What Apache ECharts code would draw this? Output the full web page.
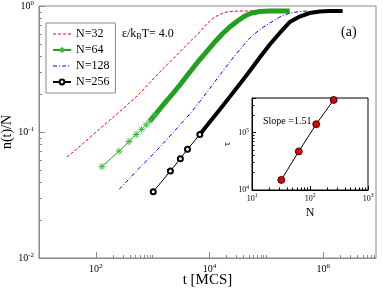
<!DOCTYPE html>
<html><head><meta charset="utf-8">
<script src="https://cdn.jsdelivr.net/npm/echarts@6/dist/echarts.min.js"></script>
<style>html,body{margin:0;padding:0;background:#fff}#c{width:382px;height:292px}</style>
</head><body><div id="c"></div>
<script>
// ---- data ----
const t32 = [31, 53, 96, 177, 325, 596, 1340, 2010, 3010, 4510, 6750, 8270, 10100, 12400, 15200, 18600, 22700, 34100, 51100, 62500];
const n32 = [0.0633, 0.0774, 0.0982, 0.1245, 0.158, 0.203, 0.301, 0.361, 0.434, 0.521, 0.622, 0.694, 0.760, 0.818, 0.856, 0.888, 0.904, 0.912, 0.912, 0.912];

const t64 = [128, 256, 384, 512, 640, 768, 896, 1093, 1640, 2290, 3010, 4510, 6750, 8970, 12400, 17100, 22700, 30200, 41700, 55400, 76600, 115000, 172000, 258000];
const n64 = [0.0531, 0.0705, 0.084, 0.0955, 0.105, 0.114, 0.1225, 0.1364, 0.170, 0.203, 0.236, 0.299, 0.376, 0.436, 0.518, 0.605, 0.681, 0.753, 0.833, 0.880, 0.904, 0.912, 0.912, 0.912];

const t128 = [258, 397, 596, 893, 1340, 2010, 3010, 4510, 6750, 10100, 15200, 22700, 34100, 51100, 76600, 115000, 172000, 258000, 386000, 513000];
const n128 = [0.0351, 0.0431, 0.0523, 0.0627, 0.0760, 0.0929, 0.1136, 0.139, 0.1746, 0.2215, 0.2834, 0.3593, 0.4516, 0.557, 0.651, 0.733, 0.818, 0.880, 0.904, 0.912];

const t256 = [1024, 2048, 3072, 4096, 6750, 10100, 15200, 22700, 34100, 51100, 76600, 115000, 172000, 258000, 386000, 579000, 868000, 1300000, 2200000];
const n256 = [0.0336, 0.0490, 0.0614, 0.0729, 0.0955, 0.120, 0.151, 0.190, 0.240, 0.305, 0.390, 0.495, 0.611, 0.746, 0.825, 0.880, 0.904, 0.912, 0.912];

const insetN = [32, 64, 128, 256];
const insetTau = [15000, 47000, 140000, 370000];

const legendNames = ['N=32', 'N=64', 'N=128', 'N=256'];
const xMajorTicks = [1e2, 1e4, 1e6];
const xMinorTicks = [200, 300, 400, 500, 600, 700, 800, 900, 1000,
                     20000, 30000, 40000, 50000, 60000, 70000, 80000, 90000, 100000,
                     2000000, 3000000, 4000000, 5000000, 6000000, 7000000, 8000000];

// ---- chart ----
const FONT = 'Liberation Serif';
const zip = (a, b) => a.map((v, i) => [v, b[i]]);
const powLabel = v => {
  const e = Math.log10(v);
  if (Math.abs(e - Math.round(e)) > 1e-6) return '';
  return '{b|10}{s|' + Math.round(e) + '}';
};
const rich = (b, s, p) => ({
  b: {fontFamily: FONT, fontSize: b, color: '#000'},
  s: {fontFamily: FONT, fontSize: s, color: '#000', padding: [0, 0, p, 0]}
});
const GRAY = '#8a8a8a';
const green = '#22a022';
const starPath = 'path://M0,-5L0,5M-5,0L5,0M-3.6,-3.6L3.6,3.6M-3.6,3.6L3.6,-3.6';
const dashIcon = 'path://M0,0L18,0L18,6L18,0L0,0ZM0,2.5h3v1h-3zM5,2.5h3v1h-3zM10,2.5h3v1h-3zM15,2.5h3v1h-3z';
const dashDotIcon = 'path://M0,0L18,0L18,6L18,0L0,0ZM0,2.5h4v1h-4zM6,2.5h1v1h-1zM9,2.5h4v1h-4zM15,2.5h1v1h-1z';

const chart = echarts.init(document.getElementById('c'), null, {renderer: 'canvas'});
chart.setOption({
  animation: false,
  backgroundColor: '#fff',
  grid: [
    {left: 39, top: 6, right: 6, bottom: 34, show: true, borderColor: GRAY, borderWidth: 1,
     containLabel: false, outerBoundsMode: 'none'},
    {left: 252, top: 98, right: 14, bottom: 102, show: true, borderColor: '#000', borderWidth: 1,
     backgroundColor: '#fff', containLabel: false, outerBoundsMode: 'none'}
  ],
  legend: {
    data: [
      {name: 'N=32', icon: dashIcon},
      {name: 'N=64'},
      {name: 'N=128', icon: dashDotIcon},
      {name: 'N=256'}
    ],
    orient: 'vertical', left: 46, top: 23,
    itemWidth: 18, itemHeight: 6, itemGap: 4, padding: [5, 6, 5, 6],
    borderColor: GRAY, borderWidth: 1, backgroundColor: '#fff',
    textStyle: {fontFamily: FONT, fontSize: 12, color: '#000'}
  },
  xAxis: [
    {gridIndex: 0, type: 'log', logBase: 10, min: 10, max: 8.5e6,
     axisLine: {show: true, lineStyle: {color: GRAY}},
     axisTick: {show: true, inside: true, length: 6, customValues: xMajorTicks, lineStyle: {color: GRAY}},
     axisLabel: {customValues: xMajorTicks, formatter: powLabel, rich: rich(10, 7, 6), margin: 5},
     splitLine: {show: false},
     name: 't [MCS]', nameLocation: 'middle', nameGap: 15, nameMoveOverlap: false,
     nameTextStyle: {fontFamily: FONT, fontSize: 15, color: '#000'}},
    {gridIndex: 0, type: 'log', logBase: 10, min: 10, max: 8.5e6, position: 'bottom',
     axisLine: {show: false},
     axisTick: {show: true, inside: true, length: 3, customValues: xMinorTicks, lineStyle: {color: GRAY}},
     axisLabel: {show: false}, splitLine: {show: false}},
    {gridIndex: 1, type: 'log', logBase: 10, min: 10, max: 1000,
     axisLine: {show: true, lineStyle: {color: '#000'}},
     axisTick: {show: true, inside: true, length: 4, lineStyle: {color: '#000'}},
     minorTick: {show: true, splitNumber: 9, length: 2.5, lineStyle: {color: '#000'}},
     axisLabel: {formatter: powLabel, rich: rich(8, 5.5, 5), margin: 3},
     splitLine: {show: false},
     name: 'N', nameLocation: 'middle', nameGap: 17, nameMoveOverlap: false,
     nameTextStyle: {fontFamily: FONT, fontSize: 12, color: '#000'}}
  ],
  yAxis: [
    {gridIndex: 0, type: 'log', logBase: 10, min: 0.01, max: 1,
     axisLine: {show: true, lineStyle: {color: GRAY}},
     axisTick: {show: true, inside: true, length: 6, lineStyle: {color: GRAY}},
     minorTick: {show: true, splitNumber: 9, length: 3, lineStyle: {color: GRAY}},
     axisLabel: {formatter: powLabel, rich: rich(10, 7, 6), margin: 5},
     splitLine: {show: false},
     name: 'n(t)/N', nameLocation: 'middle', nameGap: 25, nameMoveOverlap: false,
     nameTextStyle: {fontFamily: FONT, fontSize: 14, color: '#000'}},
    {gridIndex: 1, type: 'log', logBase: 10, min: 1e4, max: 4e5,
     axisLine: {show: true, lineStyle: {color: '#000'}},
     axisTick: {show: true, inside: true, length: 4, lineStyle: {color: '#000'}},
     minorTick: {show: true, splitNumber: 9, length: 2.5, lineStyle: {color: '#000'}},
     axisLabel: {formatter: powLabel, rich: rich(8, 5.5, 5), margin: 3},
     splitLine: {show: false},
     name: 'τ', nameLocation: 'middle', nameGap: 20, nameRotate: 90, nameMoveOverlap: false,
     nameTextStyle: {fontFamily: FONT, fontSize: 10, color: '#000'}}
  ],
  series: [
    {name: 'N=32', type: 'line', xAxisIndex: 0, yAxisIndex: 0, data: zip(t32, n32),
     symbol: 'none', itemStyle: {color: '#ff0000'},
     lineStyle: {color: '#ff0000', width: 1, type: [3, 2]}},
    {name: 'N=64', type: 'line', xAxisIndex: 0, yAxisIndex: 0, data: zip(t64, n64).slice(0, 8),
     symbol: starPath, symbolSize: 7,
     itemStyle: {color: green, borderColor: '#3cb83c', borderWidth: 1},
     lineStyle: {color: green, width: 1}},
    {type: 'line', xAxisIndex: 0, yAxisIndex: 0, data: zip(t64, n64).slice(6),
     symbol: 'none', lineStyle: {color: green, width: 5}},
    {name: 'N=128', type: 'line', xAxisIndex: 0, yAxisIndex: 0, data: zip(t128, n128),
     symbol: 'none', itemStyle: {color: '#0000ff'},
     lineStyle: {color: '#0000ff', width: 1, type: [4, 2, 1, 2]}},
    {name: 'N=256', type: 'line', xAxisIndex: 0, yAxisIndex: 0, data: zip(t256, n256).slice(0, 5),
     symbol: 'emptyCircle', symbolSize: 5,
     itemStyle: {color: '#000', borderColor: '#000', borderWidth: 0.8},
     lineStyle: {color: '#000', width: 1}},
    {type: 'line', xAxisIndex: 0, yAxisIndex: 0, data: zip(t256, n256).slice(4),
     symbol: 'none', lineStyle: {color: '#000', width: 4}},
    {type: 'line', xAxisIndex: 2, yAxisIndex: 1, data: zip(insetN, insetTau),
     symbol: 'circle', symbolSize: 7,
     itemStyle: {color: '#e00000', borderColor: '#000', borderWidth: 0.8},
     lineStyle: {color: '#000', width: 1}}
  ],
  graphic: [
    {type: 'text', left: 122, top: 28, style: {
      text: '{a|ε/k}{sub|B}{a|T= 4.0}',
      rich: {a: {fontFamily: FONT, fontSize: 12, fill: '#000'},
             sub: {fontFamily: FONT, fontSize: 8, fill: '#000', padding: [6, 0, 0, 0]}}}},
    {type: 'text', left: 341, top: 25, style: {text: '(a)', font: '14px "Liberation Serif"', fill: '#000'}},
    {type: 'text', left: 263, top: 116, style: {text: 'Slope =1.51', font: '10px "Liberation Serif"', fill: '#000'}}
  ]
});
</script></body></html>
